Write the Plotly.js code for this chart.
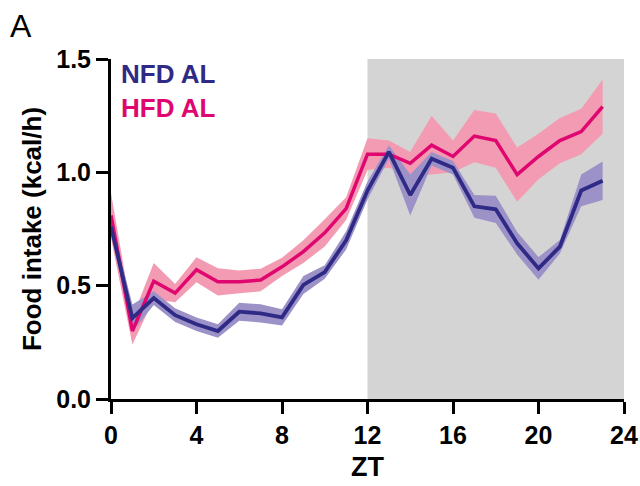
<!DOCTYPE html>
<html>
<head>
<meta charset="utf-8">
<script src="https://cdn.plot.ly/plotly-3.0.1.min.js"></script>
<style>html,body{margin:0;padding:0;background:#fff;}#chart{width:640px;height:486px;}</style>
</head>
<body>
<div id="chart"></div>
<script>
const zt = [0,1,2,3,4,5,6,7,8,9,10,11,12,13,14,15,16,17,18,19,20,21,22,23];
const nfdMean = [0.76,0.357,0.445,0.37,0.33,0.30,0.385,0.378,0.36,0.503,0.56,0.70,0.92,1.09,0.90,1.06,1.02,0.85,0.837,0.687,0.576,0.672,0.92,0.963];
const nfdSem  = [0.03,0.06,0.03,0.03,0.03,0.03,0.04,0.04,0.036,0.04,0.03,0.04,0.04,0.03,0.09,0.03,0.03,0.05,0.06,0.05,0.05,0.03,0.07,0.085];
const hfdMean = [0.81,0.30,0.52,0.467,0.57,0.517,0.517,0.525,0.583,0.65,0.733,0.84,1.08,1.08,1.04,1.12,1.07,1.16,1.14,0.99,1.07,1.14,1.18,1.29];
const hfdSem  = [0.1,0.06,0.08,0.04,0.055,0.06,0.05,0.05,0.04,0.05,0.06,0.05,0.07,0.06,0.05,0.13,0.07,0.115,0.12,0.12,0.1,0.1,0.1,0.12];
const xTicks = [0,4,8,12,16,20,24];
const yTicks = [0,0.5,1.0,1.5];

const nfdLine = '#2e2a86', nfdBand = '#9c92c7';
const hfdLine = '#e0066f', hfdBand = '#f29bb2';
const FONT = 'Liberation Sans, Arial, sans-serif';

function band(mean, sem, color){
  const lo = mean.map((m,i)=>m - sem[i]);
  const hi = mean.map((m,i)=>m + sem[i]);
  return [
    {x: zt, y: lo, mode:'lines', line:{width:0, color:color}, hoverinfo:'skip', showlegend:false},
    {x: zt, y: hi, mode:'lines', line:{width:0, color:color}, fill:'tonexty', fillcolor:color, hoverinfo:'skip', showlegend:false}
  ];
}

const data = [
  ...band(hfdMean, hfdSem, hfdBand),
  ...band(nfdMean, nfdSem, nfdBand),
  {x: zt, y: hfdMean, mode:'lines', line:{width:3.5, color:hfdLine}, name:'HFD AL', showlegend:false},
  {x: zt, y: nfdMean, mode:'lines', line:{width:3.8, color:nfdLine}, name:'NFD AL', showlegend:false}
];

const axisCommon = {
  showline:true, linewidth:3, linecolor:'#000', ticks:'outside', ticklen:12, tickwidth:3, tickcolor:'#000',
  showgrid:false, zeroline:false, fixedrange:true,
  tickfont:{family:FONT, size:25, color:'#000', weight:700}
};

const layout = {
  width:640, height:486,
  margin:{l:111, r:16, t:59, b:87},
  paper_bgcolor:'#fff', plot_bgcolor:'#fff',
  showlegend:false,
  xaxis: Object.assign({}, axisCommon, {
    range:[0,24], tickvals:xTicks, ticktext:xTicks.map(String),
    title:{text:'ZT', font:{family:FONT, size:27, color:'#000', weight:700}, standoff:10}
  }),
  yaxis: Object.assign({}, axisCommon, {
    range:[0,1.5], tickvals:yTicks, ticktext:yTicks.map(v=>v.toFixed(1)),
    title:{text:'Food intake (kcal/h)', font:{family:FONT, size:26, color:'#000', weight:700}, standoff:8}
  }),
  shapes:[{type:'rect', xref:'x', yref:'y', x0:12, x1:24, y0:0, y1:1.51, fillcolor:'#d4d4d4', line:{width:0}, layer:'below'}],
  annotations:[
    {text:'NFD AL', xref:'paper', yref:'paper', x:0.016, y:0.957, xanchor:'left', yanchor:'middle', showarrow:false,
     font:{family:FONT, size:26, color:nfdLine, weight:700}},
    {text:'HFD AL', xref:'paper', yref:'paper', x:0.016, y:0.857, xanchor:'left', yanchor:'middle', showarrow:false,
     font:{family:FONT, size:26, color:hfdLine, weight:700}},
    {text:'A', xref:'paper', yref:'paper', x:-0.2, y:1.097, xanchor:'left', yanchor:'middle', showarrow:false,
     font:{family:FONT, size:32, color:'#000'}}
  ]
};

Plotly.newPlot('chart', data, layout, {displayModeBar:false, staticPlot:true});
</script>
</body>
</html>
